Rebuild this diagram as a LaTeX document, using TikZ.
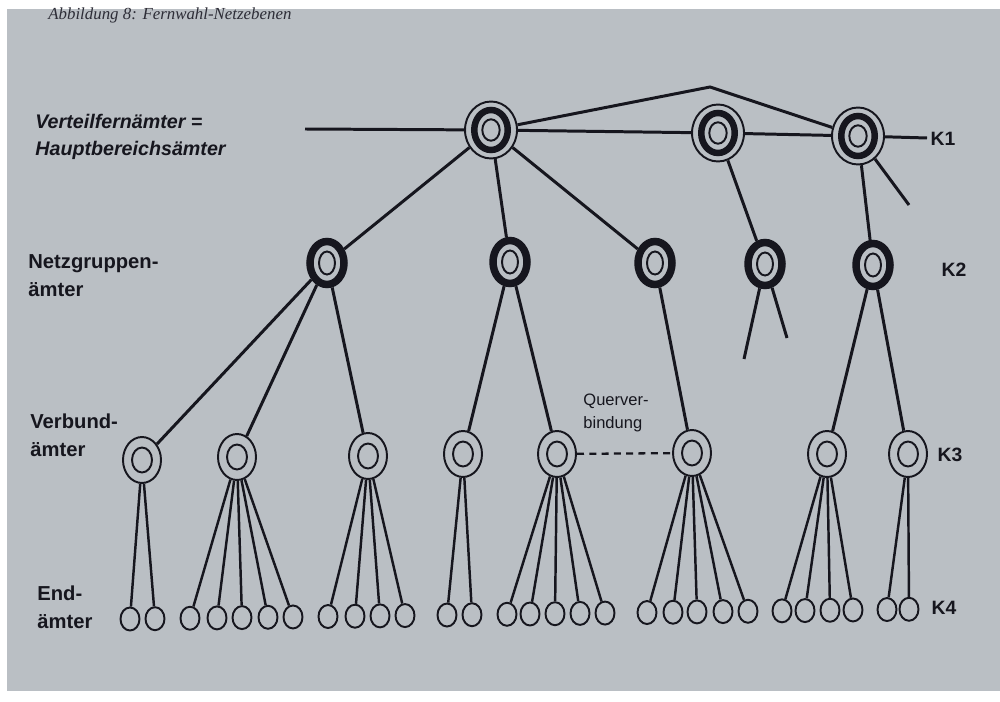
\documentclass[tikz,border=0pt]{standalone}
\usepackage{fontspec}
\setmainfont{Liberation Serif}
\setsansfont{Liberation Sans}
\usetikzlibrary{shapes.geometric}
\pgfdeclarelayer{back}
\pgfdeclarelayer{edges}
\pgfsetlayers{back,edges,main}
\definecolor{paper}{RGB}{186,191,196}
\definecolor{ink}{RGB}{22,22,30}
\definecolor{capink}{RGB}{45,45,55}
\begin{document}
\begin{tikzpicture}[x=0.02cm,y=-0.02cm,
  lbl/.style={font=\sffamily\bfseries\fontsize{11.5}{15.8}\selectfont, align=left, anchor=west, text=ink, inner sep=0},
  klbl/.style={font=\sffamily\bfseries\fontsize{11}{13}\selectfont, text=ink, inner sep=0},
  qlbl/.style={font=\sffamily\fontsize{9.4}{13}\selectfont, align=left, text=ink, inner sep=0},
  caplbl/.style={font=\itshape\fontsize{9.6}{11}\selectfont, text=capink, inner sep=0, anchor=west},
  hub/.style={ellipse, draw=ink, line width=1.1pt, fill=paper, minimum width=1.04cm, minimum height=1.14cm, inner sep=0},
  grp/.style={ellipse, draw=ink, line width=0.15cm, fill=paper, minimum width=0.68cm, minimum height=0.86cm, inner sep=0},
  ver/.style={ellipse, draw=ink, line width=1.1pt, fill=paper, minimum width=0.76cm, minimum height=0.92cm, inner sep=0},
  leaf/.style={ellipse, draw=ink, line width=1.1pt, fill=paper, minimum width=0.38cm, minimum height=0.46cm, inner sep=0},
  conn/.style={draw=ink, line width=1.7pt},
  conn2/.style={draw=ink, line width=1.4pt},
  qdash/.style={draw=ink, line width=1.3pt, dash pattern=on 4pt off 3pt}
]
\useasboundingbox (0,0) rectangle (1000,702);
\begin{pgfonlayer}{back}
  \fill[white] (0,0) rectangle (1000,702);
  \fill[paper] (7,9) rectangle (1000,691);
\end{pgfonlayer}

% caption
\node[caplbl] (cap) at (48,15) {Abbildung 8: Fernwahl-Netzebenen};

% row labels
\node[lbl, font=\sffamily\bfseries\itshape\fontsize{11.2}{15.5}\selectfont] (l1) at (35,137) {Verteilfernämter =\\Hauptbereichsämter};
\node[lbl] (l2) at (28,276) {Netzgruppen-\\ämter};
\node[lbl] (l3) at (30,435) {Verbund-\\ämter};
\node[lbl] (l4) at (37,607) {End-\\ämter};

\node[klbl] (K1) at (943,139) {K1};
\node[klbl] (K2) at (954,270) {K2};
\node[klbl] (K3) at (950,455) {K3};
\node[klbl] (K4) at (944,608) {K4};

% K1 nodes
\node[hub] (a) at (491,130) {};
\node[hub] (b) at (718,133) {};
\node[hub] (c) at (858,136) {};
\foreach \n in {a,b,c}{
  \draw[ink, line width=0.13cm] (\n.center) ellipse [x radius=0.335cm, y radius=0.40cm];
  \draw[ink, line width=1.1pt] (\n.center) ellipse [x radius=0.174cm, y radius=0.214cm];
}

% K2 nodes
\node[grp] (g1) at (327,263) {};
\node[grp] (g2) at (510,262) {};
\node[grp] (g3) at (655,263) {};
\node[grp] (g4) at (765,264) {};
\node[grp] (g5) at (873,265) {};
\foreach \n in {g1,g2,g3,g4,g5}{
  \draw[ink, line width=1.1pt] (\n.center) ellipse [x radius=0.16cm, y radius=0.23cm];
}

% K3 nodes
\node[ver] (v1) at (142,460) {};
\node[ver] (v2) at (237,457) {};
\node[ver] (v3) at (368,456) {};
\node[ver] (v4) at (463,454) {};
\node[ver] (v5) at (557,454) {};
\node[ver] (v6) at (692,453) {};
\node[ver] (v7) at (827,454) {};
\node[ver] (v8) at (908,454) {};
\foreach \n in {v1,v2,v3,v4,v5,v6,v7,v8}{
  \draw[ink, line width=1.1pt] (\n.center) ellipse [x radius=0.2cm, y radius=0.25cm];
}

% free ends
\coordinate (left) at (305,129);
\coordinate (peak) at (710,87);
\coordinate (right) at (927,138);
\coordinate (cstub) at (909,205);
\coordinate (s1) at (744,359);
\coordinate (s2) at (787,338);

\node[qlbl] (q) at (616,413) {Querver-\\bindung};

\begin{pgfonlayer}{edges}
  \draw[conn] (left) -- (a);
  \draw[conn] (a) -- (b);
  \draw[conn] (b) -- (c);
  \draw[conn] (c) -- (right);
  \draw[conn, line join=miter] (a) -- (peak) -- (c);
  \draw[conn] (c) -- (cstub);
  \draw[conn] (a) -- (g1);
  \draw[conn] (a) -- (g2);
  \draw[conn] (a) -- (g3);
  \draw[conn] (b) -- (g4);
  \draw[conn] (c) -- (g5);
  \draw[conn] (g4) -- (s1);
  \draw[conn] (g4) -- (s2);
  \draw[conn] (g1) -- (v1);
  \draw[conn] (g1) -- (v2);
  \draw[conn] (g1) -- (v3);
  \draw[conn] (g2) -- (v4);
  \draw[conn] (g2) -- (v5);
  \draw[conn] (g3) -- (v6);
  \draw[conn] (g5) -- (v7);
  \draw[conn] (g5) -- (v8);
  \draw[qdash] (v5) -- (v6);
\end{pgfonlayer}

% K4 leaves
\foreach \p/\xs in {v1/{130,155}, v2/{190,217,242,268,293}, v3/{328,355,380,405}, v4/{447,472}, v5/{507,530,555,580,605}, v6/{647,673,697,723,748}, v7/{782,805,830,853}, v8/{887,909}}{
  \foreach \x [count=\i] in \xs {
    \node[leaf] (\p-\i) at (\x,{619-0.0125*(\x-130)}) {};
    \begin{pgfonlayer}{edges}
      \draw[conn2] (\p) -- (\p-\i);
    \end{pgfonlayer}
  }
}
\end{tikzpicture}
\end{document}
